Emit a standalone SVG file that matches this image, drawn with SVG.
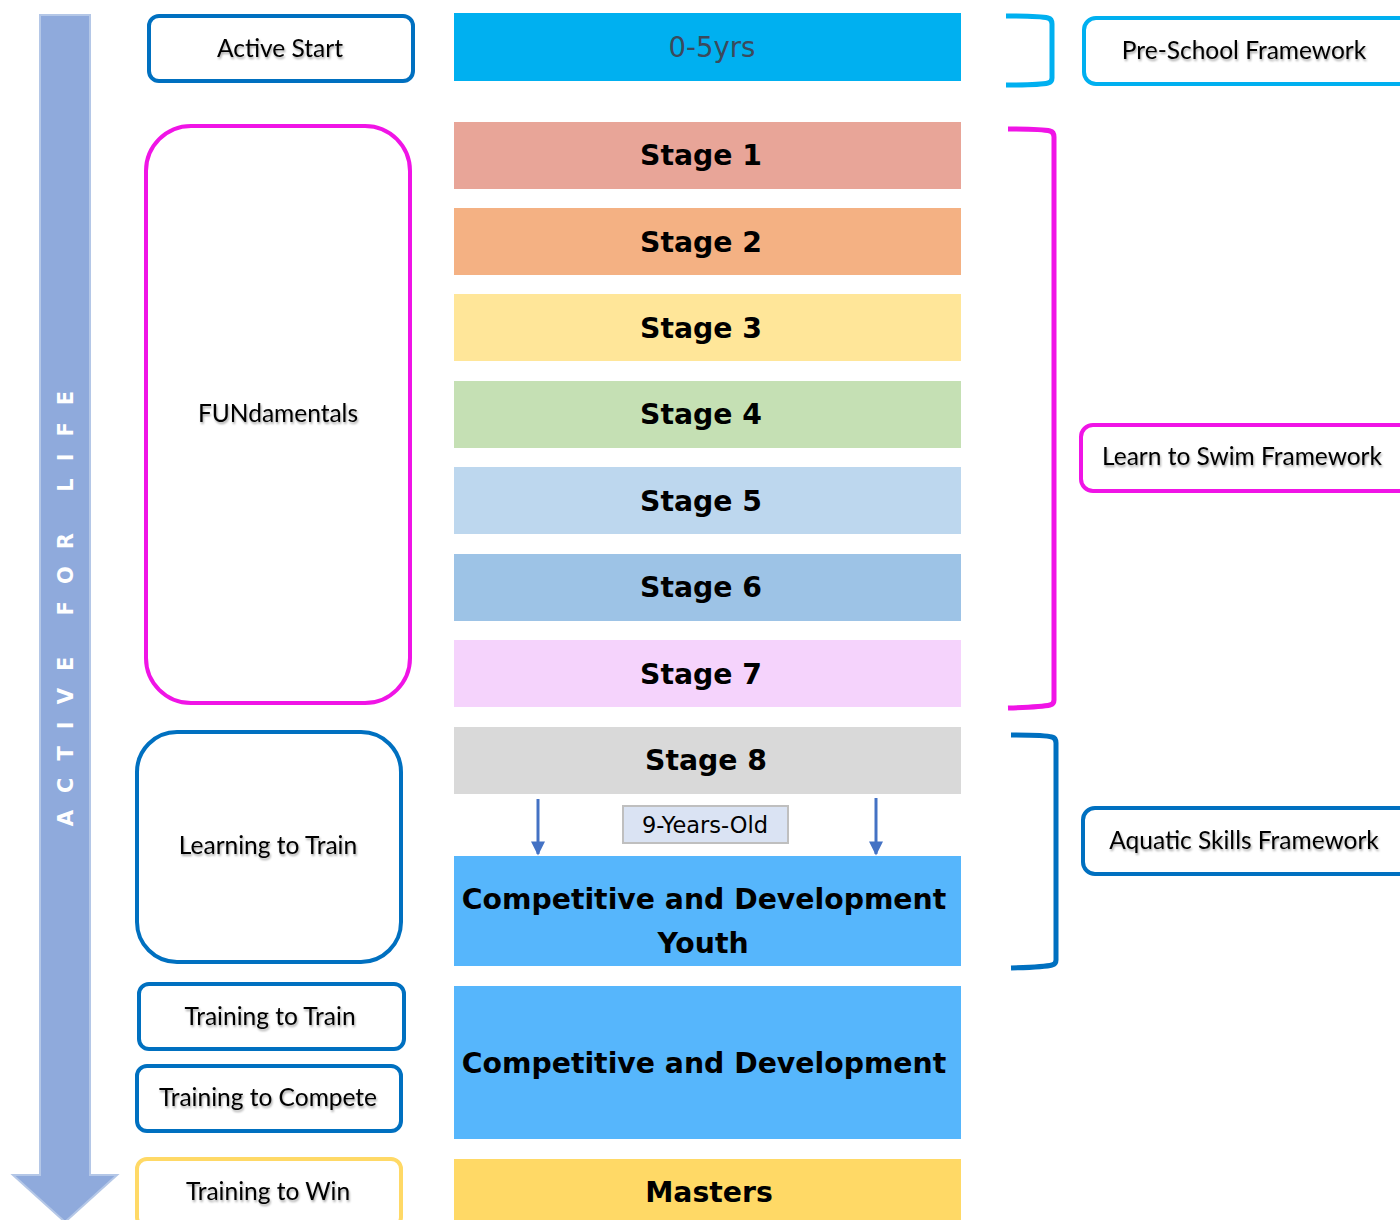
<svg xmlns="http://www.w3.org/2000/svg" width="1400" height="1220" viewBox="0 0 1400 1220">
<style>
.lbl{font-family:Lato,"Liberation Sans",sans-serif;font-size:24.5px;fill:#000;text-anchor:middle;filter:url(#sh)}
.bar{font-family:"DejaVu Sans",Verdana,sans-serif;font-weight:bold;font-size:28.3px;fill:#000;text-anchor:middle}
.box{fill:#fff;stroke-width:4}
.blue{stroke:#0070c0}
.mag{stroke:#f014e6}
.cyan{stroke:#00b0f0}
.yel{stroke:#ffd966}
.br{fill:none;stroke-width:5;stroke-linejoin:round}
</style>
<defs>
<filter id="sh" x="-10%" y="-30%" width="120%" height="160%">
<feDropShadow dx="1" dy="2" stdDeviation="1.2" flood-color="#000" flood-opacity="0.35"/>
</filter>
<marker id="ah" viewBox="0 0 10 10" refX="9" refY="5" markerUnits="userSpaceOnUse" markerWidth="15" markerHeight="14" orient="auto">
<path d="M0,0 L10,5 L0,10 Z" fill="#4472c4"/>
</marker>
</defs>
<rect width="1400" height="1220" fill="#fff"/>

<g id="big-arrow">
<path d="M40,15 H90 V1175 H117 L65,1222 L13,1175 H40 Z" fill="#8faadc" stroke="#b4c7e7" stroke-width="2"/>
<text transform="translate(73,600) rotate(-90)" text-anchor="middle" font-family="'DejaVu Sans',sans-serif" font-weight="bold" font-size="21" fill="#fff" letter-spacing="17">ACTIVE FOR LIFE</text>
</g>

<g id="active-start"><rect class="box blue" x="149" y="16" width="264" height="65" rx="10"/><text class="lbl" x="280" y="57">Active Start</text></g>
<g id="fundamentals"><rect class="box mag" x="146" y="126" width="264" height="577" rx="45"/><text class="lbl" x="278" y="422">FUNdamentals</text></g>
<g id="learning-to-train"><rect class="box blue" x="137" y="732" width="264" height="230" rx="40"/><text class="lbl" x="268" y="854">Learning to Train</text></g>
<g id="training-to-train"><rect class="box blue" x="139" y="984" width="265" height="65" rx="10"/><text class="lbl" x="270" y="1025">Training to Train</text></g>
<g id="training-to-compete"><rect class="box blue" x="137" y="1066" width="264" height="65" rx="10"/><text class="lbl" x="268" y="1106">Training to Compete</text></g>
<g id="training-to-win"><rect class="box yel" x="137" y="1159" width="264" height="68" rx="10"/><text class="lbl" x="268" y="1200">Training to Win</text></g>

<g id="age-0-5"><rect x="454" y="13" width="507" height="68" fill="#00b0f0"/><text x="712" y="57" text-anchor="middle" font-family="'DejaVu Sans',Verdana,sans-serif" font-size="27.5" fill="#3b4a5c">0-5yrs</text></g>
<g id="stage1"><rect x="454" y="122" width="507" height="67" fill="#e8a598"/><text class="bar" x="701" y="165">Stage 1</text></g>
<g id="stage2"><rect x="454" y="208" width="507" height="67" fill="#f4b183"/><text class="bar" x="701" y="252">Stage 2</text></g>
<g id="stage3"><rect x="454" y="294" width="507" height="67" fill="#ffe699"/><text class="bar" x="701" y="338">Stage 3</text></g>
<g id="stage4"><rect x="454" y="381" width="507" height="67" fill="#c5e0b4"/><text class="bar" x="701" y="424">Stage 4</text></g>
<g id="stage5"><rect x="454" y="467" width="507" height="67" fill="#bdd7ee"/><text class="bar" x="701" y="511">Stage 5</text></g>
<g id="stage6"><rect x="454" y="554" width="507" height="67" fill="#9dc3e6"/><text class="bar" x="701" y="597">Stage 6</text></g>
<g id="stage7"><rect x="454" y="640" width="507" height="67" fill="#f5d3fc"/><text class="bar" x="701" y="684">Stage 7</text></g>
<g id="stage8"><rect x="454" y="727" width="507" height="67" fill="#d9d9d9"/><text class="bar" x="706" y="770">Stage 8</text></g>
<g id="nine-years"><rect x="623" y="806" width="165" height="37" fill="#dae3f3" stroke="#bfbfbf" stroke-width="2"/><text x="705" y="833" text-anchor="middle" font-family="'DejaVu Sans',Verdana,sans-serif" font-size="22.5" fill="#000">9-Years-Old</text></g>
<g id="comp-youth"><rect x="454" y="856" width="507" height="110" fill="#56b6fc"/><text class="bar" x="704" y="909">Competitive and Development</text><text class="bar" x="703" y="953">Youth</text></g>
<g id="comp-dev"><rect x="454" y="986" width="507" height="153" fill="#56b6fc"/><text class="bar" x="704" y="1073">Competitive and Development</text></g>
<g id="masters"><rect x="454" y="1159" width="507" height="65" fill="#ffd966"/><text class="bar" x="709" y="1202">Masters</text></g>

<g id="pre-school"><rect class="box cyan" x="1084" y="18" width="340" height="66" rx="12"/><text class="lbl" x="1244" y="59">Pre-School Framework</text></g>
<g id="learn-to-swim"><rect class="box mag" x="1081" y="425" width="340" height="66" rx="12"/><text class="lbl" x="1242" y="465">Learn to Swim Framework</text></g>
<g id="aquatic-skills"><rect class="box blue" x="1083" y="808" width="340" height="66" rx="12"/><text class="lbl" x="1244" y="849">Aquatic Skills Framework</text></g>

<g id="connectors">
<path class="br cyan" d="M1006,16 Q1040,16 1048,18 Q1052,19 1052,24 V78 Q1052,82 1048,83 Q1040,85 1006,85"/>
<path class="br mag" stroke-width="6" d="M1008,129 Q1042,129 1050,131 Q1054,132 1054,137 V700 Q1054,704 1050,705 Q1042,707 1008,708"/>
<path class="br blue" d="M1011,735 Q1045,735 1052,737 Q1056,738 1056,743 V960 Q1056,964 1052,965 Q1045,967 1011,968"/>
<line x1="538" y1="799" x2="538" y2="854" stroke="#4472c4" stroke-width="3" marker-end="url(#ah)"/>
<line x1="876" y1="798" x2="876" y2="854" stroke="#4472c4" stroke-width="3" marker-end="url(#ah)"/>
</g>
</svg>
